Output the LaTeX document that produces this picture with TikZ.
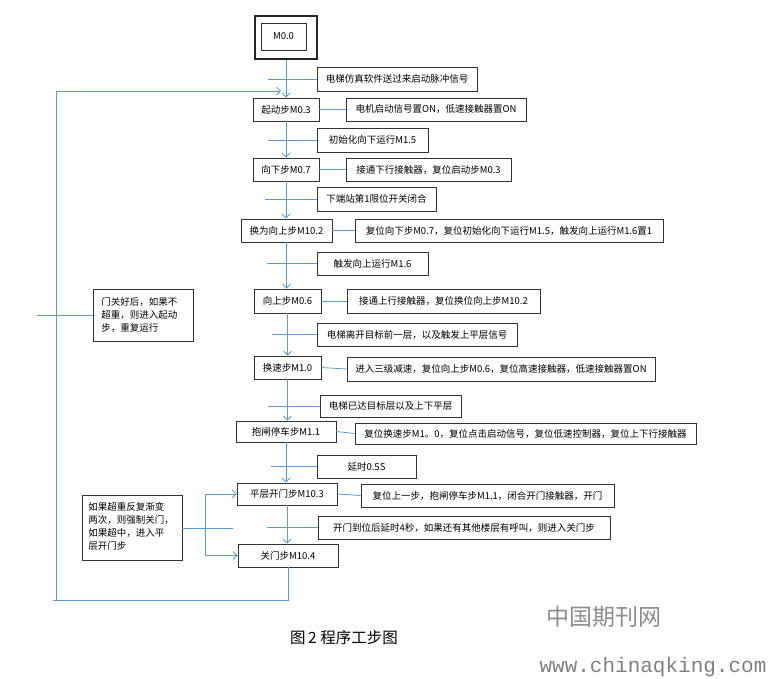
\documentclass[tikz,border=0pt]{standalone}
\usepackage{fontspec}
\newfontfamily\cn{Noto Sans CJK SC}
\newfontfamily\wmono{Liberation Mono}
\usetikzlibrary{arrows.meta}
\definecolor{lineblue}{RGB}{91,155,213}
\newcommand{\boxnode}[6]{\node[stepbox, minimum width={(#4-#2)*1pt}, minimum height={(#5-#3)*1pt}] (#1) at ({(#2+#4)/2},{(#3+#5)/2}) {#6};}
\begin{document}
\begin{tikzpicture}[x=1pt,y=-1pt,
  stepbox/.style={draw=black!80, line width=0.8pt, fill=white, inner sep=0pt, font=\cn\fontsize{9.5pt}{13pt}\selectfont},
  link/.style={draw=lineblue, line width=0.8pt},
  flow/.style={link, -{Straight Barb[length=4pt,width=8pt]}},
  notebox/.style={stepbox, align=left, inner sep=0pt}
]
\useasboundingbox (0,0) rectangle (773,678);
% start box
\node[draw=black!85, line width=1.2pt, minimum width=62pt, minimum height=43pt] (m00o) at (286,37.5) {};
\boxnode{m00}{261}{23}{306}{50}{M0.0}
% steps
\boxnode{s03}{253}{98}{319}{121}{起动步M0.3}
\boxnode{s07}{253}{158}{319}{181}{向下步M0.7}
\boxnode{s102}{241}{219}{332}{242}{换为向上步M10.2}
\boxnode{s06}{254}{289}{321}{313}{向上步M0.6}
\boxnode{s10}{254}{356}{321}{379}{换速步M1.0}
\boxnode{s11}{236}{421}{336}{442}{抱闸停车步M1.1}
\boxnode{s103}{237}{483}{337}{505}{平层开门步M10.3}
\boxnode{s104}{238}{544}{338}{567}{关门步M10.4}
% actions
\boxnode{a03}{346}{98}{526}{121}{电机启动信号置ON，低速接触器置ON}
\boxnode{a07}{346}{158}{511}{181}{接通下行接触器，复位启动步M0.3}
\boxnode{a102}{355}{219}{663}{242}{复位向下步M0.7，复位初始化向下运行M1.5，触发向上运行M1.6置1}
\boxnode{a06}{347}{289}{540}{313}{接通上行接触器，复位换位向上步M10.2}
\boxnode{a10}{347}{357}{655}{381}{进入三级减速，复位向上步M0.6，复位高速接触器，低速接触器置ON}
\boxnode{a11}{355}{423}{696}{444}{复位换速步M1。0，复位点击启动信号，复位低速控制器，复位上下行接触器}
\boxnode{a103}{361}{484}{614}{507}{复位上一步，抱闸停车步M1.1，闭合开门接触器，开门}
% transitions
\boxnode{t1}{317}{67}{477}{91}{电梯仿真软件送过来启动脉冲信号}
\boxnode{t2}{317}{128}{428}{152}{初始化向下运行M1.5}
\boxnode{t3}{317}{187}{436}{211}{下端站第1限位开关闭合}
\boxnode{t4}{317}{252}{428}{275}{触发向上运行M1.6}
\boxnode{t5}{317}{323}{517}{346}{电梯离开目标前一层，以及触发上平层信号}
\boxnode{t6}{320}{395}{461}{417}{电梯已达目标层以及上下平层}
\boxnode{t7}{317}{455}{416}{478}{延时0.5S}
\boxnode{t8}{318}{516}{610}{539}{开门到位后延时4秒，如果还有其他楼层有呼叫，则进入关门步}
% notes
\node[stepbox, minimum width=100pt, minimum height=52pt] (n1) at (143,315) {};
\node[notebox, anchor=north west, draw=none, fill=none] (n1t) at (101,297.5) {门关好后，如果不\\超重，则进入起动\\步，重复运行};
\node[stepbox, minimum width=100pt, minimum height=65pt] (n2) at (132,527.5) {};
\node[notebox, anchor=north west, draw=none, fill=none] (n2t) at (88,502.5) {如果超重反复渐变\\两次，则强制关门，\\如果超中，进入平\\层开门步};
% spine
\draw[flow] (m00o.south) -- (m00o.south |- s03.north);
\draw[flow] (s03.south) -- (s03.south |- s07.north);
\draw[flow] (s07.south) -- (s07.south |- s102.north);
\draw[flow] (s102.south) -- (s102.south |- s06.north);
\draw[flow] (s06.south) -- (s06.south |- s10.north);
\draw[flow] (s10.south) -- (s10.south |- s11.north);
\draw[flow] (s11.south) -- (s11.south |- s103.north);
\draw[flow] (s103.south) -- (s103.south |- s104.north);
% transition ticks
\coordinate (k1) at (268,0);
\coordinate (k2) at (268,0);
\coordinate (k3) at (265,0);
\coordinate (k4) at (267,0);
\coordinate (k5) at (272,0);
\coordinate (k6) at (268,0);
\coordinate (k7) at (271,0);
\coordinate (k8) at (267,0);
\draw[link] (t1.west -| k1) -- (t1.west);
\draw[link] (t2.west -| k2) -- (t2.west);
\draw[link] (t3.west -| k3) -- (t3.west);
\draw[link] (t4.west -| k4) -- (t4.west);
\draw[link] (t5.west -| k5) -- (t5.west);
\draw[link] (t6.west -| k6) -- (t6.west);
\draw[link] (t7.west -| k7) -- (t7.west);
\draw[link] (t8.west -| k8) -- (t8.west);
% action links
\draw[link] (s03.east) -- (a03.west);
\draw[link] (s07.east) -- (a07.west);
\draw[link] (s102.east) -- (a102.west);
\draw[link] (s06.east) -- (a06.west);
\draw[link] (s10.east) -- (a10.west);
\draw[link] (s11.east) -- (a11.west);
\draw[link] (s103.east) -- (a103.west);
% loop back
\coordinate (lb) at (53,600);
\coordinate (lc) at (56,600);
\coordinate (le) at (281,91);
\draw[link] (s104.south) |- (lb);
\draw[flow] (lc) |- (le);
% note 1 link
\coordinate (n1l) at (37,0);
\draw[link] (n1.west -| n1l) -- (n1.west);
% note 2 links
\coordinate (brx) at (205,0);
\coordinate (n2e) at (233,528);
\draw[link] (n2.east |- n2e) -- (n2e);
\draw[link] (s103.west -| brx) -- (s104.west -| brx);
\draw[flow] (s103.west -| brx) -- (s103.west);
\draw[flow] (s104.west -| brx) -- (s104.west);
% caption and watermark
\node[font=\cn\fontsize{15.5pt}{17pt}\selectfont, inner sep=0pt] (cap) at (344,638) {图\,2 程序工步图};
\node[font=\cn\fontsize{23pt}{25pt}\selectfont, text=black!45, inner sep=0pt] (wm1) at (604,617) {中国期刊网};
\node[font=\wmono\fontsize{21pt}{23pt}\selectfont, text=black!50, inner sep=0pt] (wm2) at (653,667) {www.chinaqking.com};
\end{tikzpicture}
\end{document}
